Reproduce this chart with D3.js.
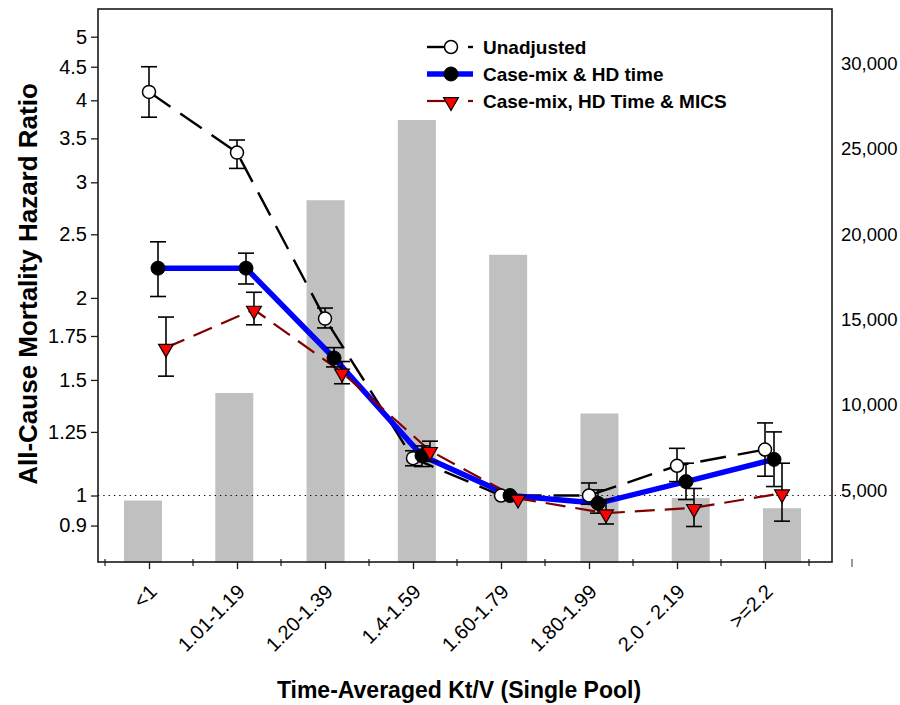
<!DOCTYPE html>
<html>
<head>
<meta charset="utf-8">
<script src="https://cdn.jsdelivr.net/npm/d3@7"></script>
<style>
  body { margin: 0; background: #fff; }
  svg { display: block; font-family: "Liberation Sans", Arial, sans-serif; }
</style>
</head>
<body>
<svg id="chart" width="900" height="705"></svg>
<script>
// ---------------- data ----------------
const categories = ["<1", "1.01-1.19", "1.20-1.39", "1.4-1.59", "1.60-1.79", "1.80-1.99", "2.0 - 2.19", ">=2.2"];
const patientCounts = [4400, 10700, 22000, 26700, 18800, 9500, 4550, 3950];

const unadjusted   = [4.12, 3.33, 1.86, 1.14, 1.00, 1.00, 1.11, 1.175];
const unadjustedLo = [3.77, 3.15, 1.80, 1.11, null, 0.97, 1.05, 1.07];
const unadjustedHi = [4.50, 3.48, 1.93, 1.17, null, 1.045, 1.18, 1.29];

const caseMix   = [2.22, 2.22, 1.62, 1.15, 1.00, 0.973, 1.05, 1.135];
const caseMixLo = [2.01, 2.10, 1.57, 1.107, null, 0.94, 0.986, 1.032];
const caseMixHi = [2.435, 2.34, 1.68, 1.19, null, 1.02, 1.12, 1.25];

const mics   = [1.68, 1.92, 1.54, 1.17, 0.99, 0.94, 0.958, 1.008];
const micsLo = [1.52, 1.82, 1.48, 1.127, null, 0.905, 0.897, 0.914];
const micsHi = [1.87, 2.04, 1.60, 1.21, null, 0.986, 1.025, 1.12];

const hrTicks = [0.9, 1, 1.25, 1.5, 1.75, 2, 2.5, 3, 3.5, 4, 4.5, 5];
const countTicks = [5000, 10000, 15000, 20000, 25000, 30000];

const seriesNames = ["Unadjusted", "Case-mix & HD time", "Case-mix, HD Time & MICS"];

// ---------------- layout ----------------
const svg = d3.select("#chart");
const L = 98, T = 9, R = 832, B = 562;
const FONT = "'Liberation Sans', Arial, sans-serif";

const y = d3.scaleLog().domain([0.792, 5.51]).range([B, T]);
const yR = d3.scaleLinear().domain([0, 30000]).range([575.6, 63.7]);
const x = d3.scalePoint().domain(categories).range([149, 765]);
const xBar = d3.scalePoint().domain(categories).range([143, 782]);
const barW = 38;
const step = x.step();
const offsets = [0, 9, 17];

// bars
svg.append("g").selectAll("rect").data(categories).join("rect")
  .attr("x", d => xBar(d) - barW / 2)
  .attr("y", (d, i) => yR(patientCounts[i]))
  .attr("width", barW)
  .attr("height", (d, i) => B + 1 - yR(patientCounts[i]))
  .attr("fill", "#c0c0c0");

// reference line at HR = 1
svg.append("line")
  .attr("x1", L).attr("x2", R + 9)
  .attr("y1", y(1)).attr("y2", y(1))
  .attr("stroke", "#000").attr("stroke-width", 1.2)
  .attr("stroke-dasharray", "1.3,4");

// frame
svg.append("rect")
  .attr("x", L).attr("y", T).attr("width", R - L).attr("height", B - T)
  .attr("fill", "none").attr("stroke", "#1a1a1a").attr("stroke-width", 1.6);

// left axis
const yAxis = d3.axisLeft(y).tickValues(hrTicks).tickFormat(d => String(d))
  .tickSize(7).tickSizeOuter(0).tickPadding(4);
const gy = svg.append("g").attr("transform", `translate(${L},0)`).call(yAxis);
gy.select(".domain").remove();
gy.selectAll("line").attr("stroke", "#1a1a1a").attr("stroke-width", 1.3);
gy.selectAll("text").attr("font-size", 20).attr("fill", "#000").attr("font-family", FONT);

// right axis (labels only)
const yRAxis = d3.axisRight(yR).tickValues(countTicks).tickFormat(d3.format(","))
  .tickSize(0).tickPadding(9);
const gr = svg.append("g").attr("transform", `translate(${R},0)`).call(yRAxis);
gr.select(".domain").remove();
gr.selectAll("text").attr("font-size", 18.5).attr("fill", "#000").attr("font-family", FONT);
// small stray mark under the right axis labels
svg.append("line").attr("x1", R + 20).attr("x2", R + 20).attr("y1", B - 3).attr("y2", B + 5)
  .attr("stroke", "#333").attr("stroke-width", 1);

// bottom axis
const xAxis = d3.axisBottom(x).tickSize(7).tickSizeOuter(0).tickFormat("");
const gx = svg.append("g").attr("transform", `translate(0,${B})`).call(xAxis);
gx.select(".domain").remove();
gx.selectAll("line").attr("stroke", "#1a1a1a").attr("stroke-width", 1.3);
const minorPos = [x(categories[0]) - step / 2].concat(categories.map(c => x(c) + step / 2));
svg.append("g").selectAll("line").data(minorPos).join("line")
  .attr("x1", d => d).attr("x2", d => d)
  .attr("y1", B - 3).attr("y2", B + 4)
  .attr("stroke", "#1a1a1a").attr("stroke-width", 1.2);
svg.append("g").selectAll("text").data(categories).join("text")
  .attr("transform", d => `translate(${x(d) + 9},${B + 31}) rotate(-45)`)
  .attr("text-anchor", "end")
  .attr("font-size", 20)
  .text(d => d);

// axis titles
svg.append("text")
  .attr("x", 459).attr("y", 698)
  .attr("text-anchor", "middle").attr("font-size", 23).attr("font-weight", "bold")
  .text("Time-Averaged Kt/V (Single Pool)");
svg.append("text")
  .attr("transform", `translate(37,284) rotate(-90)`)
  .attr("text-anchor", "middle").attr("font-size", 26).attr("font-weight", "bold")
  .text("All-Cause Mortality Hazard Ratio");

// ---------------- series ----------------
const series = [
  { vals: unadjusted, lo: unadjustedLo, hi: unadjustedHi, off: offsets[0], color: "#000", width: 2.4, dash: "26,12" },
  { vals: caseMix, lo: caseMixLo, hi: caseMixHi, off: offsets[1], color: "#0000ff", width: 5.5, dash: null },
  { vals: mics, lo: micsLo, hi: micsHi, off: offsets[2], color: "#800000", width: 2.2, dash: "20,10" }
];

const line = d3.line().x(d => d[0]).y(d => d[1]);

series.forEach(s => {
  const pts = categories.map((c, i) => [x(c) + s.off, y(s.vals[i])]);
  svg.append("path").attr("d", line(pts))
    .attr("fill", "none").attr("stroke", s.color).attr("stroke-width", s.width)
    .attr("stroke-dasharray", s.dash);
});

// error bars
series.forEach(s => {
  const g = svg.append("g").attr("stroke", "#000").attr("stroke-width", 1.6).attr("fill", "none");
  categories.forEach((c, i) => {
    if (s.lo[i] == null) return;
    const cx = x(c) + s.off;
    g.append("line").attr("x1", cx).attr("x2", cx).attr("y1", y(s.hi[i])).attr("y2", y(s.lo[i]));
    g.append("line").attr("x1", cx - 8).attr("x2", cx + 8).attr("y1", y(s.hi[i])).attr("y2", y(s.hi[i]));
    g.append("line").attr("x1", cx - 8).attr("x2", cx + 8).attr("y1", y(s.lo[i])).attr("y2", y(s.lo[i]));
  });
});

// markers
const tri = d3.symbol().type(d3.symbolTriangle).size(95);
function drawMarker(g, kind, cx, cy) {
  if (kind === 0) {
    g.append("circle").attr("cx", cx).attr("cy", cy).attr("r", 6.5)
      .attr("fill", "#fff").attr("stroke", "#000").attr("stroke-width", 1.5);
  } else if (kind === 1) {
    g.append("circle").attr("cx", cx).attr("cy", cy).attr("r", 7)
      .attr("fill", "#000").attr("stroke", "#000").attr("stroke-width", 1);
  } else {
    g.append("path").attr("d", tri)
      .attr("transform", `translate(${cx},${cy + 1}) rotate(180)`)
      .attr("fill", "#ff0000").attr("stroke", "#000").attr("stroke-width", 1.2);
  }
}
const gm = svg.append("g");
series.forEach((s, k) => {
  categories.forEach((c, i) => drawMarker(gm, k, x(c) + s.off, y(s.vals[i])));
});

// ---------------- legend ----------------
const lg = svg.append("g");
const rowsY = [47, 74, 101];
series.forEach((s, k) => {
  const yy = rowsY[k];
  if (k === 1) {
    lg.append("line").attr("x1", 427).attr("x2", 473).attr("y1", yy).attr("y2", yy)
      .attr("stroke", s.color).attr("stroke-width", 5.5);
  } else {
    lg.append("line").attr("x1", 427).attr("x2", 446).attr("y1", yy).attr("y2", yy)
      .attr("stroke", s.color).attr("stroke-width", s.width);
    lg.append("line").attr("x1", 468).attr("x2", 473).attr("y1", yy).attr("y2", yy)
      .attr("stroke", s.color).attr("stroke-width", s.width);
  }
  drawMarker(lg, k, 451, yy);
  lg.append("text").attr("x", 483).attr("y", yy).attr("dy", "0.36em")
    .attr("font-size", 19).attr("font-weight", "bold").text(seriesNames[k]);
});
</script>
</body>
</html>
